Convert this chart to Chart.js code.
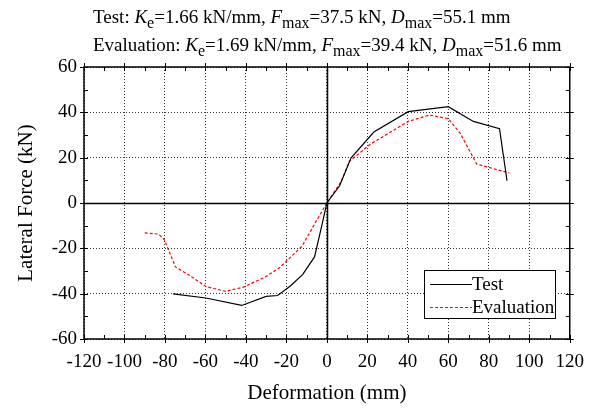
<!DOCTYPE html>
<html>
<head>
<meta charset="utf-8">
<script src="https://cdn.jsdelivr.net/npm/chart.js@4"></script>
<style>
  body { margin: 0; background: #fff; }
  #wrap { width: 596px; height: 410px; }
</style>
</head>
<body>
<div id="wrap"><canvas id="myChart" width="596" height="410"></canvas></div>
<script>
// values
var testX = [-76, -59.8, -42.1, -30, -24.3, -17.9, -11.9, -6.1, -2.6, 0, 6.3, 11.9, 23.2, 40.2, 60, 72.4, 85.3, 89];
var testY = [-40.1, -41.9, -45.2, -41.2, -40.8, -36.5, -31.5, -23.8, -10.3, 0, 7.6, 19.8, 31.3, 40.3, 42.5, 36, 32.8, 9.8];
var evalX = [-90, -83.2, -80.3, -74.8, -67.1, -59.8, -50.2, -41.3, -30.8, -23.6, -12.3, -5.8, 0, 7.1, 11.1, 21.6, 40.2, 50.6, 60, 66, 74, 90.2];
var evalY = [-13.2, -13.7, -16.2, -28.2, -32.4, -36.8, -39, -37.1, -32.8, -28.7, -19.1, -8.8, 0, 9.5, 18.4, 26, 36, 38.8, 37.2, 30.6, 17.2, 13.2];

var seriesNames = ['Test', 'Evaluation'];
var keValues = [1.66, 1.69];
var fmaxValues = [37.5, 39.4];
var dmaxValues = [55.1, 51.6];

var xMin = -120, xMax = 120, yMin = -60, yMax = 60;
var FONT = '"Liberation Serif", "Times New Roman", serif';
Chart.defaults.font.family = FONT;

function toPoints(xs, ys) {
    var pts = [];
    for (var i = 0; i < xs.length; i++) pts.push({x: xs[i], y: ys[i]});
    return pts;
}

function majorOnly(value) {
    return value % 20 === 0 ? String(value) : '';
}

// title with italic letters and subscripts
var titlePlugin = {
    id: 'titleLines',
    afterDraw: function(chart) {
        var ctx = chart.ctx;
        ctx.save();
        ctx.fillStyle = '#000';
        ctx.textBaseline = 'alphabetic';
        var baselines = [23, 51];
        for (var k = 0; k < seriesNames.length; k++) {
            var segs = [
                [seriesNames[k] + ': ', 'n'], ['K', 'i'], ['e', 's'],
                ['=' + keValues[k].toFixed(2) + ' kN/mm, ', 'n'], ['F', 'i'], ['max', 's'],
                ['=' + fmaxValues[k].toFixed(1) + ' kN, ', 'n'], ['D', 'i'], ['max', 's'],
                ['=' + dmaxValues[k].toFixed(1) + ' mm', 'n']
            ];
            var x = 93;
            for (var j = 0; j < segs.length; j++) {
                var t = segs[j][0], st = segs[j][1];
                var y = baselines[k];
                if (st == 'i') ctx.font = 'italic 19px ' + FONT;
                else if (st == 's') { ctx.font = '16px ' + FONT; y += 5; }
                else ctx.font = '19px ' + FONT;
                ctx.fillText(t, x, y);
                x += ctx.measureText(t).width;
            }
        }
        ctx.restore();
    }
};

// zero lines, frame, inward ticks and legend box
var framePlugin = {
    id: 'frame',
    beforeDatasetsDraw: function(chart) {
        var ctx = chart.ctx, a = chart.chartArea;
        var xs = chart.scales.x, ys = chart.scales.y;
        ctx.save();
        ctx.strokeStyle = '#000';
        ctx.lineWidth = 1.5;
        var x0 = Math.round(xs.getPixelForValue(0)) + 0.5;
        var y0 = Math.round(ys.getPixelForValue(0)) + 0.5;
        ctx.beginPath();
        ctx.moveTo(x0, a.top); ctx.lineTo(x0, a.bottom);
        ctx.moveTo(a.left, y0); ctx.lineTo(a.right, y0);
        ctx.stroke();
        ctx.restore();
    },
    afterDatasetsDraw: function(chart) {
        var ctx = chart.ctx, a = chart.chartArea;
        var xs = chart.scales.x, ys = chart.scales.y;
        ctx.save();
        ctx.strokeStyle = '#000';
        ctx.lineWidth = 1.5;
        ctx.strokeRect(a.left, a.top, a.right - a.left, a.bottom - a.top);
        ctx.lineWidth = 1;
        ctx.beginPath();
        for (var v = xMin; v <= xMax; v += 10) {
            var px = Math.round(xs.getPixelForValue(v)) + 0.5;
            var out = v % 20 === 0 ? 4 : 0;
            ctx.moveTo(px, a.bottom + out); ctx.lineTo(px, a.bottom - 4);
            ctx.moveTo(px, a.top - out); ctx.lineTo(px, a.top + 4);
        }
        for (var w = yMin; w <= yMax; w += 10) {
            var py = Math.round(ys.getPixelForValue(w)) + 0.5;
            var o2 = w % 20 === 0 ? 4 : 0;
            ctx.moveTo(a.left - o2, py); ctx.lineTo(a.left + 4, py);
            ctx.moveTo(a.right + o2, py); ctx.lineTo(a.right - 4, py);
        }
        ctx.stroke();

        // legend
        var bx = 424, by = 270, bw = 131, bh = 48;
        ctx.fillStyle = '#fff';
        ctx.fillRect(bx, by, bw, bh);
        ctx.strokeRect(bx + 0.5, by + 0.5, bw, bh);
        ctx.font = '19px ' + FONT;
        ctx.textBaseline = 'middle';
        var ds = chart.data.datasets;
        for (var i = 0; i < ds.length; i++) {
            var ly = by + 14.5 + i * 23;
            ctx.strokeStyle = ds[i].borderColor;
            ctx.lineWidth = ds[i].borderWidth;
            ctx.setLineDash(ds[i].borderDash || []);
            ctx.beginPath();
            ctx.moveTo(bx + 6, ly); ctx.lineTo(bx + 48, ly);
            ctx.stroke();
            ctx.setLineDash([]);
            ctx.fillStyle = '#000';
            ctx.fillText(ds[i].label, bx + 48, ly + 1);
        }
        ctx.restore();
    }
};

var config = {
    type: 'scatter',
    data: {
        datasets: [{
            label: seriesNames[0],
            data: toPoints(testX, testY),
            showLine: true,
            borderColor: '#000',
            borderWidth: 1.2,
            pointRadius: 0,
            tension: 0
        }, {
            label: seriesNames[1],
            data: toPoints(evalX, evalY),
            showLine: true,
            borderColor: '#ff0000',
            borderWidth: 1.2,
            borderDash: [3, 2],
            pointRadius: 0,
            tension: 0
        }]
    },
    options: {
        responsive: false,
        animation: false,
        layout: {padding: {top: 67, right: 16, left: 0, bottom: 0}},
        plugins: {
            legend: {display: false},
            tooltip: {enabled: false}
        },
        scales: {
            x: {
                type: 'linear',
                min: xMin, max: xMax,
                afterFit: function(scale) { scale.height = 71; },
                ticks: {
                    stepSize: 10,
                    autoSkip: false,
                    maxRotation: 0, minRotation: 0,
                    padding: 12,
                    color: '#000',
                    font: {family: FONT, size: 19},
                    callback: majorOnly
                },
                grid: {
                    drawTicks: false,
                    color: function(c) { return c.tick && c.tick.value % 20 === 0 ? '#333' : 'rgba(0,0,0,0)'; },
                    lineWidth: 1
                },
                border: {display: false, dash: [1, 2]},
                title: {
                    display: true,
                    text: 'Deformation (mm)',
                    color: '#000',
                    font: {family: FONT, size: 21},
                    padding: {top: 0, bottom: 4}
                }
            },
            y: {
                type: 'linear',
                min: yMin, max: yMax,
                afterFit: function(scale) { scale.width = 84; },
                ticks: {
                    stepSize: 10,
                    autoSkip: false,
                    padding: 7,
                    color: '#000',
                    font: {family: FONT, size: 19},
                    callback: majorOnly
                },
                grid: {
                    drawTicks: false,
                    color: function(c) { return c.tick && c.tick.value % 20 === 0 ? '#333' : 'rgba(0,0,0,0)'; },
                    lineWidth: 1
                },
                border: {display: false, dash: [1, 2]},
                title: {
                    display: true,
                    text: 'Lateral Force (kN)',
                    color: '#000',
                    font: {family: FONT, size: 21},
                    padding: {top: 14, bottom: 0}
                }
            }
        }
    },
    plugins: [framePlugin, titlePlugin]
};

var ctx = document.getElementById('myChart').getContext('2d');
var myChart = new Chart(ctx, config);
</script>
</body>
</html>
